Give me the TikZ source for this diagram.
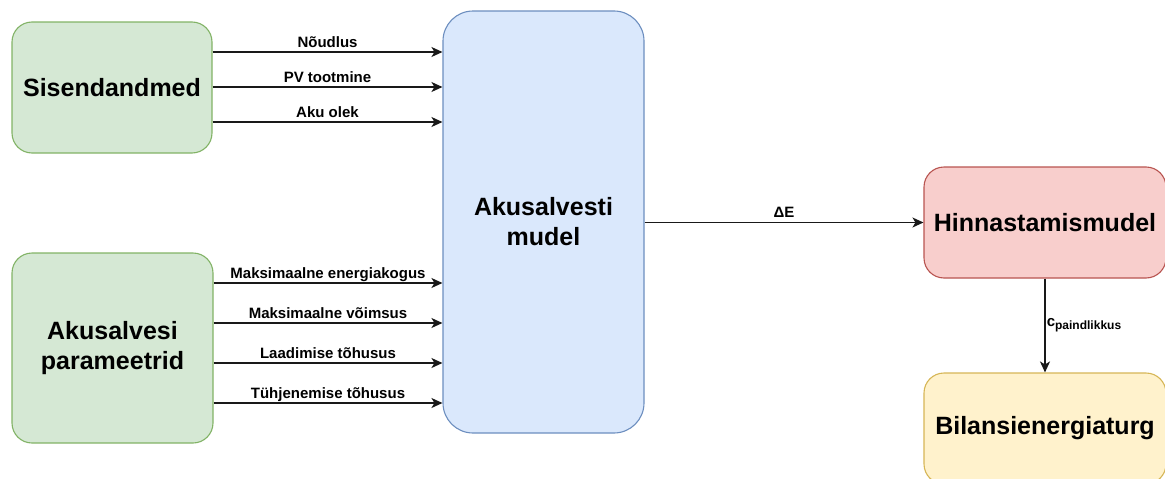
\documentclass[tikz,border=0pt]{standalone}
\usepackage{fontspec}
\setmainfont{Liberation Sans}
\usetikzlibrary{arrows.meta, positioning}
\definecolor{grfill}{HTML}{D5E8D4}
\definecolor{grline}{HTML}{82B366}
\definecolor{blfill}{HTML}{DAE8FC}
\definecolor{blline}{HTML}{6C8EBF}
\definecolor{rdfill}{HTML}{F8CECC}
\definecolor{rdline}{HTML}{B85450}
\definecolor{ylfill}{HTML}{FFF2CC}
\definecolor{ylline}{HTML}{D6B656}
\tikzstyle{box} = [rectangle, rounded corners=20pt,
align=center,
line width=1.1pt,
font=\bfseries\fontsize{25}{30}\selectfont]
\tikzstyle{arrow} = [-{Stealth[length=11pt, width=10pt, inset=3pt]}, line width=1.6pt, draw=black!90]
\tikzstyle{lbl} = [anchor=base, yshift=5pt, inner sep=0pt, font=\bfseries\fontsize{15}{18}\selectfont]

\begin{document}
\begin{tikzpicture}[x=1pt, y=-1pt]
		
		% Canvas boundary
		\useasboundingbox (0,0) rectangle (1165,479);
		
		% Input boxes
		\node[box, minimum width=200pt, minimum height=131pt, fill=grfill, draw=grline] (sis) at (112,87.5) {Sisendandmed};
		\node[box, minimum width=201pt, minimum height=190pt, fill=grfill, draw=grline] (param) at (112.5,348) {Akusalvesi\\parameetrid};
		
		% Battery model
		\node[box, rounded corners=30pt, minimum width=201pt, minimum height=422pt, fill=blfill, draw=blline] (aku) at (543.5,222) {Akusalvesti\\mudel};
		
		% Pricing and market
		\node[box, minimum width=242pt, minimum height=111pt, fill=rdfill, draw=rdline] (hind) at (1045,222.5) {Hinnastamismudel};
		\node[box, minimum width=242pt, minimum height=111pt, fill=ylfill, draw=ylline] (turg) at (1045,428.5) {Bilansienergiaturg};
		
		% Inputs into the model
		\foreach \y/\txt in {52/Nõudlus, 87/PV tootmine, 122/Aku olek}
			\draw[arrow] (sis.east |- 0,\y) -- node[lbl] {\txt} (aku.west |- 0,\y);
		\foreach \y/\txt in {283/Maksimaalne energiakogus, 323/Maksimaalne võimsus, 363/Laadimise tõhusus, 403/Tühjenemise tõhusus}
			\draw[arrow] (param.east |- 0,\y) -- node[lbl] {\txt} (aku.west |- 0,\y);
		
		% Outputs
		\draw[arrow] (aku.east |- hind.west) -- node[lbl] {ΔE} (hind.west);
		\draw[arrow] (hind.south) -- node[right, inner sep=1pt, font=\bfseries\fontsize{15}{18}\selectfont] {c\raisebox{-3pt}{\fontsize{12}{14}\selectfont paindlikkus}} (turg.north);
		
	\end{tikzpicture}
\end{document}
